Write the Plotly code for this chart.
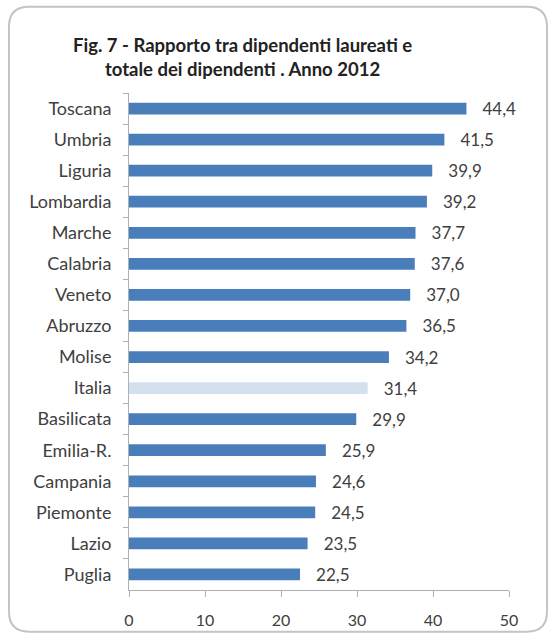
import plotly.graph_objects as go

regions = ["Toscana", "Umbria", "Liguria", "Lombardia", "Marche", "Calabria", "Veneto",
           "Abruzzo", "Molise", "Italia", "Basilicata", "Emilia-R.", "Campania",
           "Piemonte", "Lazio", "Puglia"]
values = [44.4, 41.5, 39.9, 39.2, 37.7, 37.6, 37.0, 36.5, 34.2, 31.4, 29.9, 25.9, 24.6,
          24.5, 23.5, 22.5]
x_ticks = [0, 10, 20, 30, 40, 50]
title_lines = ["Fig. 7 - Rapporto tra dipendenti laureati e", "totale dei dipendenti . Anno 2012"]

BLUE = "#4a7ebb"
LIGHT = "#d5e0ee"
colors = [LIGHT if r == "Italia" else BLUE for r in regions]

W, H = 554, 641
ML, MR, MT, MB = 129, 45, 93, 47
PW, PH = W - ML - MR, H - MT - MB


def px(x):
    return (x - ML) / PW


def py(y):
    return (H - MB - y) / PH


fig = go.Figure(go.Bar(
    x=values, y=regions, orientation="h",
    marker=dict(color=colors, line=dict(width=0)),
    width=0.38,
    texttemplate="\u00a0\u00a0\u00a0%{x:.1f}", textposition="outside",
    constraintext="none",
    textfont=dict(family="Lato", size=17, color="#404040"),
    cliponaxis=False,
))

# rounded border box
x0, x1, y0, y1, r = 9, 547, 6, 636, 20
path = (f"M {px(x0 + r)},{py(y0)} L {px(x1 - r)},{py(y0)} "
        f"Q {px(x1)},{py(y0)} {px(x1)},{py(y0 + r)} L {px(x1)},{py(y1 - r)} "
        f"Q {px(x1)},{py(y1)} {px(x1 - r)},{py(y1)} L {px(x0 + r)},{py(y1)} "
        f"Q {px(x0)},{py(y1)} {px(x0)},{py(y1 - r)} L {px(x0)},{py(y0 + r)} "
        f"Q {px(x0)},{py(y0)} {px(x0 + r)},{py(y0)} Z")

fig.update_layout(
    width=W, height=H,
    margin=dict(l=ML, r=MR, t=MT, b=MB, pad=0),
    paper_bgcolor="white", plot_bgcolor="white",
    separators=",.",
    showlegend=False,
    font=dict(family="Lato", color="#404040"),
    shapes=[dict(type="path", path=path, xref="paper", yref="paper",
                 line=dict(color="#c4c4c4", width=2), fillcolor="rgba(0,0,0,0)", layer="below")],
    annotations=[dict(text="<b>" + "<br>".join(title_lines) + "</b>",
                      xref="paper", yref="paper", x=px(242), y=py(57),
                      xanchor="center", yanchor="middle", showarrow=False,
                      font=dict(family="Lato", size=18.5, color="#222222"))],
)
fig.update_xaxes(range=[0, 50], tickvals=x_ticks, showgrid=False, zeroline=False,
                 showline=True, linecolor="#b0b0b0", linewidth=1,
                 ticks="outside", ticklen=6, tickcolor="#b0b0b0", ticklabelstandoff=10,
                 tickfont=dict(family="Lato", size=16, color="#404040"))
fig.update_yaxes(autorange="reversed", showgrid=False, zeroline=False,
                 showline=True, linecolor="#b0b0b0", linewidth=1,
                 ticks="outside", ticklen=5, tickcolor="#b0b0b0", tickson="boundaries",
                 ticklabelstandoff=13,
                 tickfont=dict(family="Lato", size=18, color="#404040"))

fig.write_html("out.html")
